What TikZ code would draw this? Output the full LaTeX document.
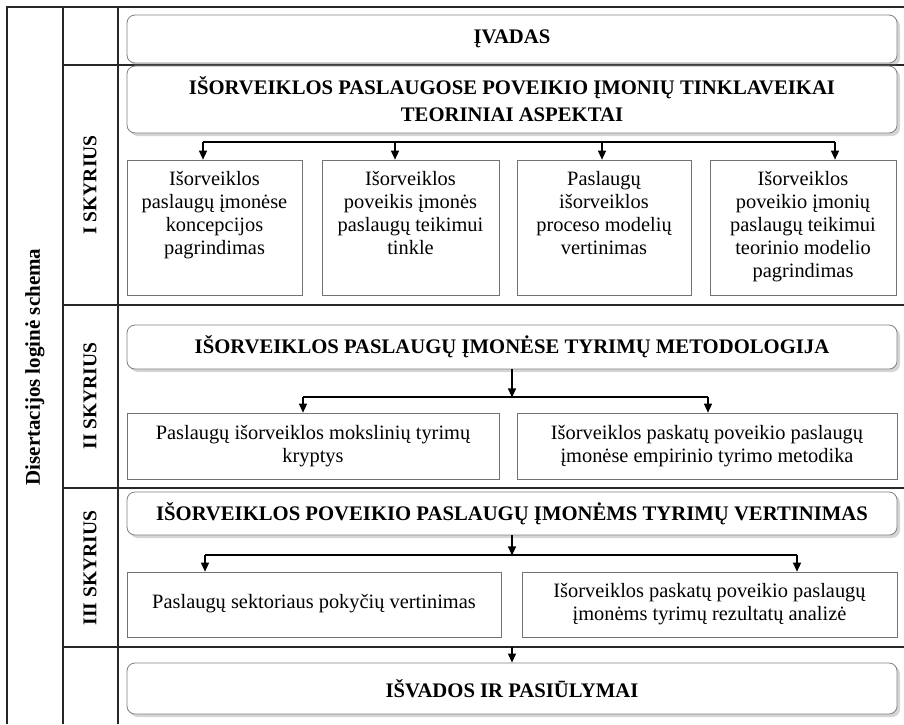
\documentclass[tikz,border=0pt]{standalone}
\usepackage{fontspec}
\setmainfont{Liberation Serif}
\usepackage{tikz}
\usetikzlibrary{arrows.meta,shadows}
\newcommand{\toptxt}[2]{\parbox[c][112pt][t]{#1}{\centering #2}}
\tikzset{
  chapbox/.style={draw=black!50,line width=0.8pt,rounded corners=8pt,fill=white,
                  drop shadow={shadow xshift=3pt,shadow yshift=-3pt,opacity=0.3,fill=black!55},
                  font=\fontsize{20.7}{27}\selectfont\bfseries,align=center,inner sep=0pt},
  topicbox/.style={draw=black!55,line width=0.7pt,fill=white,inner sep=0pt,
                   font=\fontsize{20.4}{23}\selectfont,align=center},
  gridline/.style={line width=1.1pt,black!85},
  busline/.style={line width=1.3pt,black},
  busarrow/.style={busline,-{Triangle[length=9pt,width=8pt]}},
  sidelabel/.style={rotate=90,font=\fontsize{19.5}{23}\selectfont\bfseries}}

\begin{document}
\begin{tikzpicture}[x=1pt,y=-1pt]
\useasboundingbox (0,0) rectangle (904,724);

% table frame
\draw[gridline] (904,7) -- (7,7) -- (7,724);
\draw[gridline] (63,7) -- (63,724);
\draw[gridline] (118,7) -- (118,724);
\foreach \yy in {65,305,488,647}{\draw[gridline] (63,\yy) -- (904,\yy);}

\node[sidelabel,font=\fontsize{21}{23}\selectfont\bfseries] (lblall) at (35,367)
  {Disertacijos loginė schema};
\node[sidelabel] (lblI)   at (90,185) {I SKYRIUS};
\node[sidelabel] (lblII)  at (90,396) {II SKYRIUS};
\node[sidelabel] (lblIII) at (90,568) {III SKYRIUS};

% chapter titles
\node[chapbox,minimum width=770,minimum height=48] (t0) at (512,39) {ĮVADAS};
\node[chapbox,minimum width=770,minimum height=67] (t1) at (512,99.5)
  {IŠORVEIKLOS PASLAUGOSE POVEIKIO ĮMONIŲ TINKLAVEIKAI\\TEORINIAI ASPEKTAI};
\node[chapbox,minimum width=770,minimum height=44] (t2) at (512,347)
  {IŠORVEIKLOS PASLAUGŲ ĮMONĖSE TYRIMŲ METODOLOGIJA};
\node[chapbox,minimum width=770,minimum height=43] (t3) at (512,513.5)
  {IŠORVEIKLOS POVEIKIO PASLAUGŲ ĮMONĖMS TYRIMŲ VERTINIMAS};
\node[chapbox,minimum width=770,minimum height=51] (t4) at (512,688.5)
  {IŠVADOS IR PASIŪLYMAI};

% I skyrius
\node[topicbox,minimum width=175,minimum height=135] (s1a) at (214.5,227.5)
  {\toptxt{170pt}{Išorveiklos\\paslaugų įmonėse\\koncepcijos\\pagrindimas}};
\node[topicbox,minimum width=177,minimum height=135] (s1b) at (410.5,227.5)
  {\toptxt{172pt}{Išorveiklos\\poveikis įmonės\\paslaugų teikimui\\tinkle}};
\node[topicbox,minimum width=174,minimum height=135] (s1c) at (604,227.5)
  {\toptxt{169pt}{Paslaugų\\išorveiklos\\proceso modelių\\vertinimas}};
\node[topicbox,minimum width=186,minimum height=135] (s1d) at (803,227.5)
  {\toptxt{180pt}{Išorveiklos\\poveikio įmonių\\paslaugų teikimui\\teorinio modelio\\pagrindimas}};
\foreach \n/\bx in {a/203,b/395,c/602,d/835}{%
  \coordinate (j1\n) at (\bx,142);
  \draw[busarrow] (j1\n) -- (j1\n |- s1\n.north);}
\draw[busline] (j1a) -- (j1d);

% II skyrius
\node[topicbox,minimum width=372,minimum height=66] (s2a) at (313,446)
  {Paslaugų išorveiklos mokslinių tyrimų\\kryptys};
\node[topicbox,minimum width=380,minimum height=66] (s2b) at (707,446)
  {Išorveiklos paskatų poveikio paslaugų\\įmonėse empirinio tyrimo metodika};
\path (t2.south) ++(0,28) coordinate (j2);
\coordinate (j2a) at (303,397);
\coordinate (j2b) at (708,397);
\draw[busarrow] (t2.south) -- (j2);
\draw[busline] (j2a) -- (j2b);
\draw[busarrow] (j2a) -- (j2a |- s2a.north);
\draw[busarrow] (j2b) -- (j2b |- s2b.north);

% III skyrius
\node[topicbox,minimum width=374,minimum height=65] (s3a) at (314,604.5)
  {\raisebox{6pt}{Paslaugų sektoriaus pokyčių vertinimas}};
\node[topicbox,minimum width=375,minimum height=65] (s3b) at (709.5,604.5)
  {Išorveiklos paskatų poveikio paslaugų\\įmonėms tyrimų rezultatų analizė};
\path (t3.south) ++(0,20) coordinate (j3);
\coordinate (j3a) at (205,555);
\coordinate (j3b) at (797,555);
\draw[busarrow] (t3.south) -- (j3);
\draw[busline] (j3a) -- (j3b);
\draw[busarrow] (j3a) -- (j3a |- s3a.north);
\draw[busarrow] (j3b) -- (j3b |- s3b.north);

% to conclusions
\coordinate (j4) at (512,647);
\draw[busarrow] (j4) -- (t4.north);
\end{tikzpicture}
\end{document}
